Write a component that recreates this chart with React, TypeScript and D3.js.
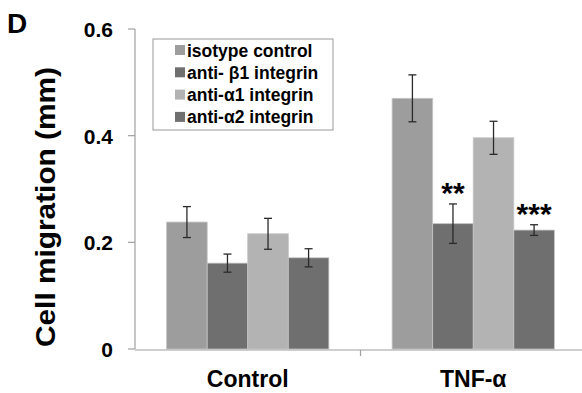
import React from 'react';
import * as d3 from 'd3';

const groups = ['Control', 'TNF-α'];
const seriesNames = ['isotype control', 'anti- β1 integrin', 'anti-α1 integrin', 'anti-α2 integrin'];
const seriesColors = ['#9d9d9d', '#6f6f6f', '#b3b3b3', '#6f6f6f'];
// values[group][series]
const means = [
  [0.238, 0.161, 0.216, 0.171],
  [0.470, 0.235, 0.396, 0.223],
];
const errors = [
  [0.029, 0.017, 0.029, 0.017],
  [0.044, 0.037, 0.031, 0.010],
];
const stars = [
  ['', '', '', ''],
  ['', '**', '', '***'],
];
const yTicks = [0, 0.2, 0.4, 0.6];
const yTickLabels = ['0', '0.2', '0.4', '0.6'];

const W = 582, H = 393;
const font = 'Liberation Sans, Arial, sans-serif';

export default function App() {
  const y = d3.scaleLinear().domain([0, 0.6]).range([349, 29]);
  const x0 = d3.scaleBand().domain(groups).range([135, 586]);
  const x1 = d3.scaleBand().domain(seriesNames).range([0, x0.bandwidth()]).paddingOuter(0.78).paddingInner(0);

  return (
    <svg width={W} height={H} style={{ position: 'absolute', left: 0, top: 0, background: '#fff' }} fontFamily={font}>
      <text x={7} y={33} fontSize={28} fontWeight="bold">D</text>
      <text transform={`translate(55,207) rotate(-90)`} textAnchor="middle" fontSize={28} fontWeight="bold"
        textLength={280} lengthAdjust="spacingAndGlyphs">
        Cell migration (mm)
      </text>

      {/* y axis */}
      <line x1={135} x2={135} y1={y(0.6)} y2={y(0)} stroke="#a0a0a0" strokeWidth={1.2} />
      {yTicks.map((t, i) => (
        <g key={i}>
          <line x1={128} x2={135} y1={y(t)} y2={y(t)} stroke="#a0a0a0" strokeWidth={1.2} />
          <text x={113} y={y(t) + 8} textAnchor="end" fontSize={21} fontWeight="bold">{yTickLabels[i]}</text>
        </g>
      ))}

      {/* bars */}
      {groups.map((g, gi) => (
        <g key={g} transform={`translate(${x0(g)},0)`}>
          {seriesNames.map((s, si) => {
            const bx = x1(s)!;
            const bw = x1.bandwidth();
            const cx = bx + bw / 2;
            const v = means[gi][si];
            const e = errors[gi][si];
            return (
              <g key={s}>
                <rect x={bx} y={y(v)} width={bw} height={y(0) - y(v)} fill={seriesColors[si]} stroke="#c4c4c4" strokeWidth={0.8} />
                <line x1={cx} x2={cx} y1={y(v + e)} y2={y(v - e)} stroke="#2a2a2a" strokeWidth={1.3} />
                <line x1={cx - 4} x2={cx + 4} y1={y(v + e)} y2={y(v + e)} stroke="#2a2a2a" strokeWidth={1.3} />
                <line x1={cx - 4} x2={cx + 4} y1={y(v - e)} y2={y(v - e)} stroke="#2a2a2a" strokeWidth={1.3} />
                {stars[gi][si] && (
                  <text x={cx} y={y(v + e) - 1} textAnchor="middle" fontSize={30} fontWeight="bold">{stars[gi][si]}</text>
                )}
              </g>
            );
          })}
          <text x={x0.bandwidth() / 2} y={387} textAnchor="middle" fontSize={23} fontWeight="bold">{g}</text>
        </g>
      ))}

      {/* x axis */}
      <line x1={135} x2={W} y1={y(0) + 1} y2={y(0) + 1} stroke="#a0a0a0" strokeWidth={1.2} />
      <line x1={x0(groups[1])!} x2={x0(groups[1])!} y1={y(0) + 1} y2={y(0) + 7} stroke="#a0a0a0" strokeWidth={1.2} />

      {/* legend */}
      <rect x={153} y={39} width={180} height={91} fill="#fff" stroke="#9a9a9a" strokeWidth={1} />
      {seriesNames.map((s, i) => (
        <g key={s} transform={`translate(175,${50 + i * 22.3})`}>
          <rect x={0} y={-5} width={10} height={10} fill={seriesColors[i]} />
          <text x={12} y={6.5} fontSize={17.5} fontWeight="bold">{s}</text>
        </g>
      ))}
    </svg>
  );
}
